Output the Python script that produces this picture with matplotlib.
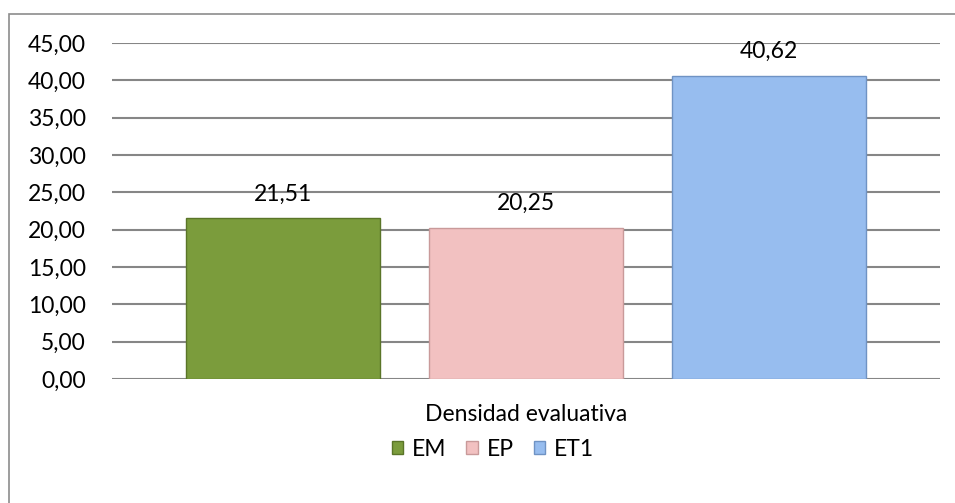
import numpy as np
import matplotlib.pyplot as plt
from matplotlib.patches import Rectangle, Patch

# data
series = ["EM", "EP", "ET1"]
values = [21.51, 20.25, 40.62]
category = "Densidad evaluativa"
colors = ["#7b9c3c", "#f2c1c1", "#97bdef"]
edges = ["#5a7528", "#c99a9a", "#6f93c4"]

plt.rcParams["font.family"] = ["Lato", "DejaVu Sans"]
fs = 16.5

fig = plt.figure(figsize=(9.55, 5.03), dpi=100)
ax = fig.add_axes([112 / 955, 1 - 379 / 503, (940 - 112) / 955, (379 - 43) / 503])

# outer chart border (only left/top visible in reference)
fig.patches.append(Rectangle((9 / 955, -0.1), 1.2, 1 - 14 / 503 + 0.1,
                             transform=fig.transFigure, fill=False,
                             edgecolor="#8c8c8c", linewidth=1.2))

pos = np.array([-1.0, 0.0, 1.0])
width = 0.80
bars = ax.bar(pos, values, width=width, color=colors, edgecolor=edges,
              linewidth=1.0, zorder=3)

for b, v in zip(bars, values):
    ax.annotate(f"{v:.2f}".replace(".", ","), (b.get_x() + b.get_width() / 2, v),
                xytext=(0, 10), textcoords="offset points", ha="center",
                va="bottom", fontsize=fs, color="black")

ax.set_xlim(-1.704, 1.704)
ax.set_ylim(0, 45)
ax.set_yticks(np.arange(0, 46, 5))
ax.set_yticklabels([f"{t:.2f}".replace(".", ",") for t in np.arange(0, 46, 5)],
                   fontsize=fs)
ax.yaxis.grid(True, color="#868686", linewidth=1.5, zorder=0)
ax.set_axisbelow(True)
ax.tick_params(axis="y", length=0, pad=19)
ax.set_xticks([0])
ax.set_xticklabels([category], fontsize=fs)
ax.tick_params(axis="x", length=0, pad=18)
for s in ax.spines.values():
    s.set_visible(False)

handles = [Patch(facecolor=c, edgecolor=e) for c, e in zip(colors, edges)]
fig.legend(handles, series, loc="center", bbox_to_anchor=(493 / 955, 1 - 449 / 503),
           ncol=3, frameon=False, fontsize=fs, handlelength=0.5, handleheight=0.5,
           handletextpad=0.4, columnspacing=0.85)

fig.savefig("out.png", dpi=100)
